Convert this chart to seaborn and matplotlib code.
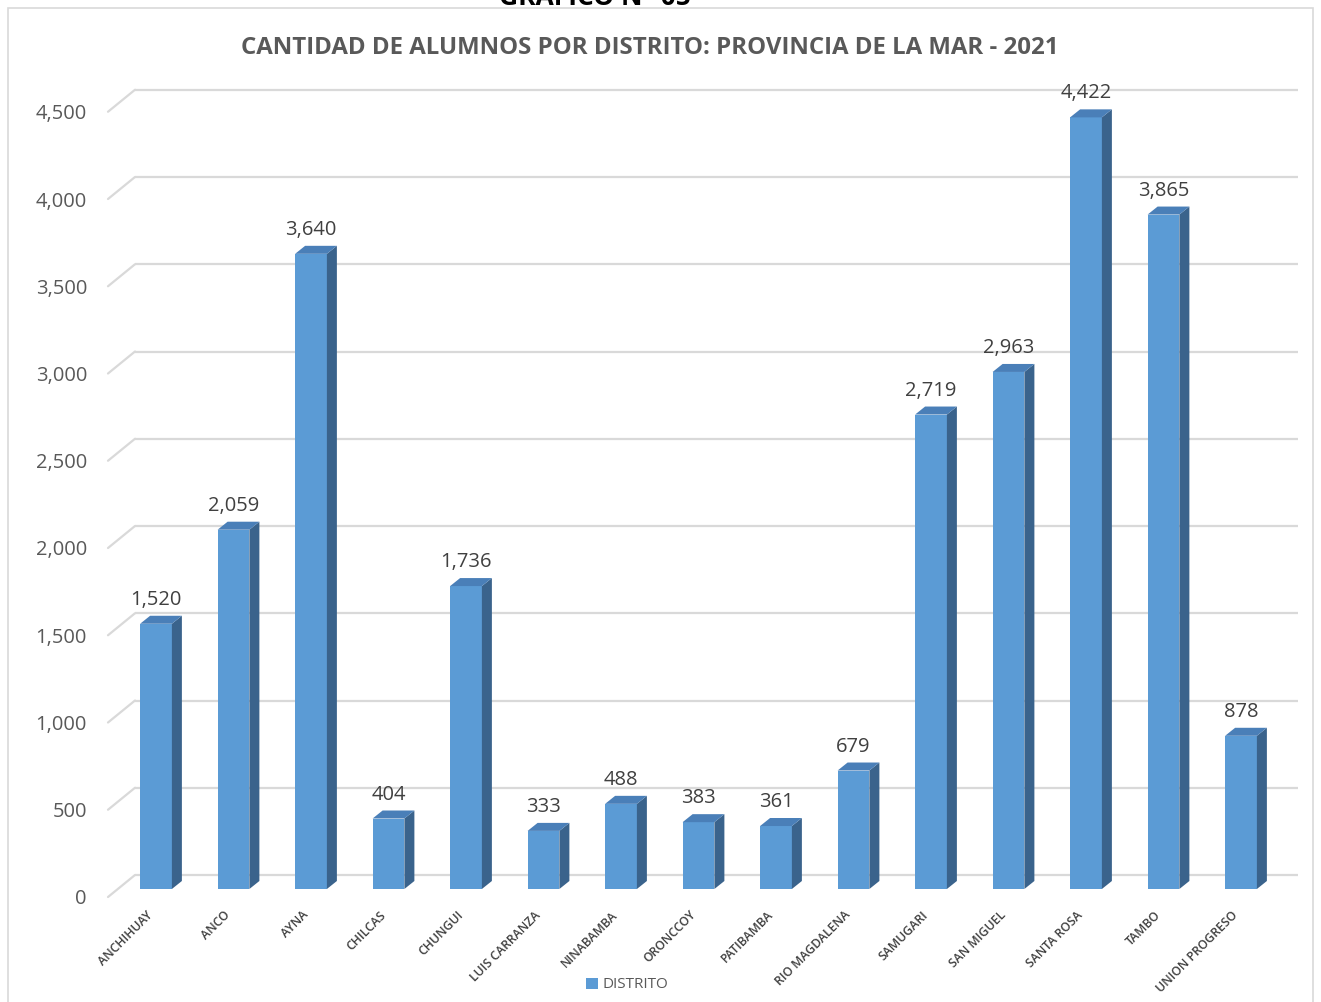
import matplotlib
matplotlib.use("Agg")
import matplotlib.pyplot as plt
import matplotlib.transforms as mtransforms
from matplotlib.patches import Polygon, Rectangle
import pandas as pd
import seaborn as sns

# ---------------- data ----------------
distritos = ["ANCHIHUAY", "ANCO", "AYNA", "CHILCAS", "CHUNGUI", "LUIS CARRANZA",
             "NINABAMBA", "ORONCCOY", "PATIBAMBA", "RIO MAGDALENA", "SAMUGARI",
             "SAN MIGUEL", "SANTA ROSA", "TAMBO", "UNION PROGRESO"]
alumnos = [1520, 2059, 3640, 404, 1736, 333, 488, 383, 361, 679, 2719, 2963, 4422, 3865, 878]
y_ticks = [0, 500, 1000, 1500, 2000, 2500, 3000, 3500, 4000, 4500]
y_tick_labels = [f"{v:,}" for v in y_ticks]
series_name = "DISTRITO"
title = "CANTIDAD DE ALUMNOS POR DISTRITO: PROVINCIA DE LA MAR - 2021"
top_title = "GRÁFICO N° 05"

# ---------------- style ----------------
sns.set_theme(style="white")
plt.rcParams["font.family"] = ["Open Sans", "DejaVu Sans"]

FRONT = "#5B9BD5"
SIDE = "#3A638C"
TOP = "#4A7FB8"
GRID = "#D9D9D9"

W, H = 1321, 1002
fig = plt.figure(figsize=(W / 100, H / 100), dpi=100)
fig.patch.set_facecolor("white")

# axes placement (pixels)
L, R, T, B = 100, 1310, 60, 920
ax = fig.add_axes([L / W, 1 - B / H, (R - L) / W, (B - T) / H])

df = pd.DataFrame({"distrito": distritos, "alumnos": alumnos})
sns.barplot(data=df, x="distrito", y="alumnos", color=FRONT, saturation=1,
            width=0.41, linewidth=0, ax=ax, zorder=3)

spacing = 77.5     # px between categories
sc = 0.1745        # px per unit
x0c = 156          # px of first category center
y0 = 889           # px of value 0 (bar front plane)
ax.set_xlim(-(x0c - L) / spacing, (len(distritos) - 1) + (R - (x0c + spacing * (len(distritos) - 1))) / spacing)
ax.set_ylim(-(B - y0) / sc, (y0 - T) / sc)
for s in ax.spines.values():
    s.set_visible(False)
ax.set_xlabel("")
ax.set_ylabel("")
ax.set_facecolor("none")

# 3D gridlines (back wall + diagonal to front)
back_dy = 14 / sc
front_dy = 8 / sc
xb0 = (135 - x0c) / spacing
xb1 = (1298 - x0c) / spacing
xf = (108 - x0c) / spacing
for v in y_ticks:
    ax.plot([xb0, xb1], [v + back_dy, v + back_dy], color=GRID, lw=1.6, zorder=1,
            solid_capstyle="butt")
    ax.plot([xf, xb0], [v - front_dy, v + back_dy], color=GRID, lw=1.6, zorder=1)

# 3D bar faces
dxd = 10 / spacing
dyd = 8 / sc
for p in list(ax.patches):
    xl = p.get_x()
    xr = xl + p.get_width()
    h = p.get_height()
    side = Polygon([(xr, 0), (xr + dxd, dyd), (xr + dxd, h + dyd), (xr, h)],
                   closed=True, facecolor=SIDE, edgecolor="none", zorder=3)
    top = Polygon([(xl, h), (xr, h), (xr + dxd, h + dyd), (xl + dxd, h + dyd)],
                  closed=True, facecolor=TOP, edgecolor="none", zorder=3)
    ax.add_patch(side)
    ax.add_patch(top)

# value labels
for i, v in enumerate(alumnos):
    ax.annotate(f"{v:,}", (i, v), xytext=(0, 24 * 0.72), textcoords="offset points",
                ha="center", va="center", fontsize=14.5, color="#404040", zorder=5)

# y ticks
ax.set_yticks(y_ticks)
ax.set_yticklabels(y_tick_labels, fontsize=14.5, color="#595959")
ax.tick_params(axis="y", length=0, pad=13 * 0.72)
for lab in ax.get_yticklabels():
    lab.set_transform(lab.get_transform() + mtransforms.ScaledTranslation(0, -0.08, fig.dpi_scale_trans))

# x ticks
ax.set_xticks(range(len(distritos)))
ax.set_xticklabels(distritos, rotation=45, ha="right", va="center",
                   rotation_mode="anchor", fontsize=8.8, fontweight="semibold", color="#404040")
ax.tick_params(axis="x", length=0, pad=0)
for lab in ax.get_xticklabels():
    lab.set_transform(lab.get_transform() + mtransforms.ScaledTranslation(-0.05, 0.07, fig.dpi_scale_trans))

# title
fig.text(650 / W, 1 - 48 / H, title, ha="center", va="center", fontsize=17.3,
         fontweight="bold", color="#595959")
# heading cut off at the top edge, as in the source
fig.text(595 / W, 1 - 5 / H, top_title, ha="center", va="baseline", fontsize=19,
         fontweight="bold", color="black")

# legend
handle = Rectangle((0, 0), 1, 1, facecolor=FRONT, edgecolor="none")
fig.legend([handle], [series_name], loc="center", bbox_to_anchor=(627 / W, 1 - 985 / H),
           frameon=False, fontsize=11, handlelength=0.75, handleheight=0.75,
           handletextpad=0.3, labelcolor="#595959")

# chart border
fig.add_artist(Rectangle((8 / W, -0.01), (1313 - 8) / W, 0.01 + (H - 8) / H,
                         transform=fig.transFigure, fill=False, edgecolor="#D9D9D9", lw=1.2))

fig.savefig("out.png", dpi=100)
